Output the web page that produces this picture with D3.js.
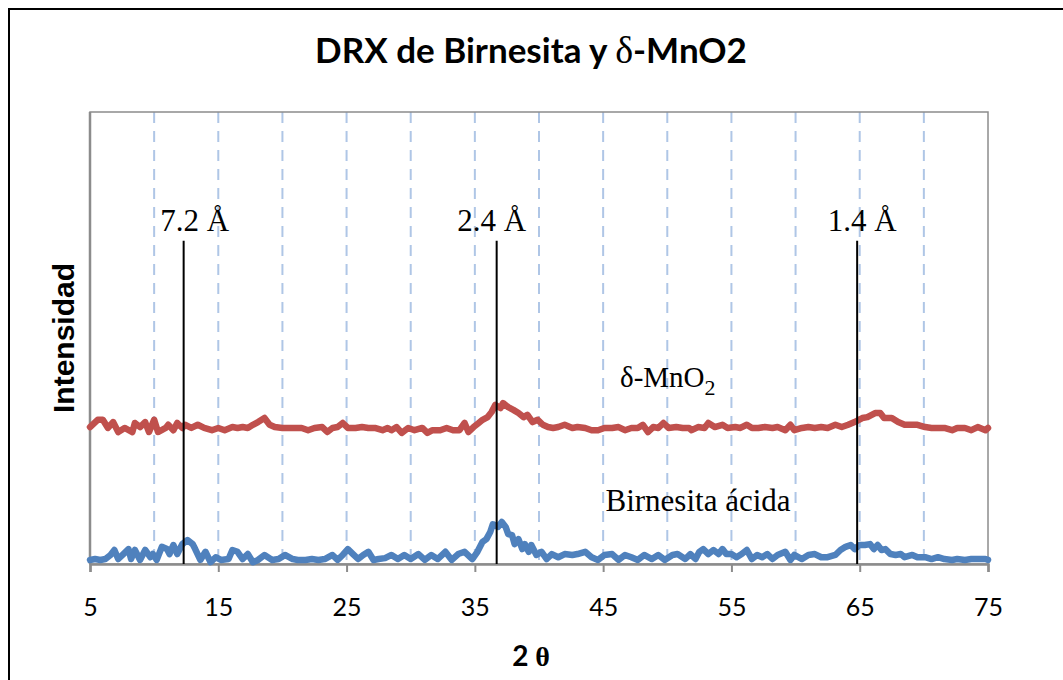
<!DOCTYPE html>
<html><head><meta charset="utf-8">
<script src="https://cdn.jsdelivr.net/npm/d3@7/dist/d3.min.js"></script>
<style>body{margin:0;background:#fff}svg{display:block}</style>
</head><body><div id="chart"></div>
<script>
// --- data (2θ in degrees, intensity in arbitrary units) ---
const mno2Theta = [5.0,5.6,6.0,6.4,6.8,7.2,7.7,8.3,8.5,8.9,9.3,9.6,10.0,10.3,10.9,11.1,11.5,11.8,12.2,12.4,12.9,13.4,13.9,14.5,15.0,15.5,16.1,16.5,16.9,17.3,17.7,18.1,18.6,19.0,19.4,20.0,20.4,21.0,21.5,22.0,22.5,23.1,23.5,23.9,24.3,24.7,25.1,25.7,26.2,26.7,27.2,27.8,28.2,28.5,28.9,29.3,29.8,30.3,30.9,31.3,31.7,32.3,32.8,33.3,33.8,34.2,34.5,34.9,35.3,35.6,36.0,36.3,36.6,37.0,37.2,37.6,38.0,38.4,38.8,39.1,39.5,39.9,40.3,40.7,41.1,41.5,42.0,42.6,43.0,43.6,44.1,44.6,45.1,45.7,46.2,46.7,47.2,47.7,48.1,48.5,48.9,49.3,49.7,50.1,50.7,51.2,51.7,51.9,52.4,52.9,53.2,53.7,54.3,54.7,55.3,55.7,56.2,56.6,57.1,57.6,58.2,58.6,59.2,59.6,59.9,60.5,61.0,61.5,62.0,62.5,63.1,63.6,64.1,64.6,65.2,65.6,66.2,66.6,66.9,67.5,68.0,68.5,69.1,69.5,70.1,70.6,71.1,71.6,72.2,72.6,73.2,73.7,74.2,74.8,75.0];
const mno2Int = [30.3,31.9,31.9,30.1,31.4,29.2,30.1,29.2,31.2,30.3,31.4,29.2,31.9,29.2,30.1,30.8,29.6,31.2,30.1,30.8,30.1,30.8,30.1,29.6,30.1,29.6,30.3,30.1,30.3,30.1,30.8,31.4,32.3,30.8,30.3,30.1,30.1,30.1,30.1,29.6,30.1,30.3,29.2,30.1,30.3,31.2,30.1,30.1,30.3,30.1,30.1,29.6,30.1,29.6,30.3,29.0,30.1,29.6,30.1,29.0,29.6,29.6,30.1,29.6,29.6,31.2,29.2,30.3,31.2,31.9,32.5,33.6,35.2,34.5,35.6,34.7,34.1,33.4,32.5,33.0,31.4,31.9,30.8,30.3,30.1,30.3,30.8,30.1,30.3,30.1,29.6,29.6,30.1,30.1,30.3,29.6,30.1,30.1,30.8,29.2,30.3,30.1,31.2,30.1,30.3,30.1,30.1,29.6,30.3,30.1,31.2,30.3,30.8,30.1,30.3,30.1,30.8,30.1,30.1,30.3,30.1,30.3,29.6,30.8,29.6,30.1,30.3,30.1,30.3,30.1,30.8,30.3,30.8,31.4,32.3,32.5,33.4,33.4,32.3,32.3,31.4,30.8,30.8,30.8,30.3,30.1,30.1,30.1,29.6,30.1,30.1,29.6,30.3,29.6,30.1];

const birTheta = [5.0,5.4,5.8,6.2,6.6,6.9,7.2,7.6,8.0,8.2,8.5,8.9,9.3,9.7,9.9,10.2,10.6,11.0,11.2,11.5,11.8,12.2,12.6,13.0,13.2,13.6,14.0,14.4,14.8,15.2,15.8,16.1,16.5,16.9,17.3,17.7,18.1,18.6,19.2,19.7,20.2,20.8,21.2,21.8,22.3,22.8,23.3,23.9,24.3,24.7,25.1,25.5,25.9,26.3,26.7,27.1,27.5,28.0,28.5,29.0,29.5,30.0,30.6,31.1,31.6,32.1,32.7,33.2,33.7,34.2,34.8,35.2,35.6,35.9,36.2,36.4,36.8,37.1,37.4,37.6,37.9,38.1,38.4,38.7,38.9,39.2,39.4,39.8,40.2,40.6,41.0,41.5,42.0,42.6,43.0,43.6,44.1,44.6,45.1,45.7,46.2,46.7,47.2,47.7,48.2,48.8,49.3,49.8,50.4,50.8,51.4,51.8,52.2,52.5,52.8,53.2,53.6,54.0,54.3,54.6,55.0,55.4,55.8,56.2,56.6,57.0,57.4,57.8,58.2,58.6,59.2,59.6,59.9,60.5,61.0,61.5,62.0,62.5,63.1,63.5,63.9,64.3,64.6,65.0,65.4,65.8,66.1,66.4,66.7,67.0,67.4,67.8,68.2,68.5,69.1,69.5,70.1,70.6,71.1,71.6,72.2,72.6,73.2,73.7,74.2,74.8,75.0];
const birInt = [0.9,1.1,0.9,1.1,2.0,3.1,1.1,2.2,3.3,1.1,3.1,0.9,3.1,1.5,2.2,0.9,3.8,3.3,2.2,4.2,2.2,4.4,5.3,4.4,3.3,0.9,2.7,0.4,1.5,0.9,1.1,3.1,2.7,1.1,2.2,0.4,0.9,2.0,0.9,1.1,2.0,1.1,0.9,0.9,1.1,0.9,1.1,2.0,0.9,2.0,3.3,2.2,1.1,2.0,2.7,0.9,1.1,1.3,2.0,1.1,2.0,1.1,2.2,0.9,2.0,1.1,2.7,0.9,2.2,2.7,1.1,2.7,4.9,5.5,7.1,8.8,8.2,9.3,8.2,6.6,6.4,4.4,5.5,3.3,4.4,2.7,4.2,2.0,2.7,1.1,2.2,1.5,2.2,2.0,2.2,2.7,1.5,0.9,2.0,2.2,0.9,2.0,1.5,0.9,2.0,1.1,2.0,0.9,2.0,2.2,1.1,2.2,1.1,2.7,3.3,2.2,3.1,2.2,3.3,2.2,2.2,1.5,2.2,3.1,1.1,2.0,1.5,2.2,1.1,2.0,2.7,0.9,2.0,1.1,2.0,2.2,1.5,1.5,2.0,3.1,3.8,4.2,3.3,4.2,4.2,4.4,3.3,4.2,3.1,3.3,2.2,2.0,2.2,1.5,2.0,1.5,1.5,1.1,1.5,1.1,0.9,1.1,0.9,1.1,1.1,1.1,0.9];

const xTicks = [5,15,25,35,45,55,65,75];
const gridX = [10,15,20,25,30,35,40,45,50,55,60,65,70];
const peakTheta = [12.3, 36.7, 64.8];
const peakLabels = ["7.2 Å", "2.4 Å", "1.4 Å"];
const peakTop = 71.5;

// --- layout ---
const W = 1063, H = 680;
const plot = {left: 90, right: 988, top: 112, bottom: 564};
const sansC = "Lato, 'Open Sans', sans-serif";
const serif = "'Liberation Serif', 'Times New Roman', serif";

const svg = d3.select("#chart").append("svg").attr("width", W).attr("height", H);

// outer chart frame
svg.append("rect").attr("x", 9).attr("y", 9).attr("width", W + 20).attr("height", H + 20)
  .attr("fill", "none").attr("stroke", "#000").attr("stroke-width", 2);

const x = d3.scaleLinear().domain([5, 75]).range([plot.left, plot.right]);
const y = d3.scaleLinear().domain([0, 100]).range([plot.bottom, plot.top]);

// gridlines
svg.append("g").selectAll("line").data(gridX).join("line")
  .attr("x1", d => x(d)).attr("x2", d => x(d))
  .attr("y1", plot.top).attr("y2", plot.bottom)
  .attr("stroke", "#AFC6E6").attr("stroke-width", 2).attr("stroke-dasharray", "11,8");

// plot frame
svg.append("rect").attr("x", plot.left).attr("y", plot.top)
  .attr("width", plot.right - plot.left).attr("height", plot.bottom - plot.top)
  .attr("fill", "none").attr("stroke", "#8C8C8C").attr("stroke-width", 1.5);

// x axis
const xAxis = d3.axisBottom(x).tickValues(xTicks).tickSize(8).tickPadding(26).tickFormat(d3.format("d"));
const gx = svg.append("g").attr("transform", `translate(0,${plot.bottom})`).call(xAxis);
gx.attr("font-size", null).attr("font-family", null);
gx.select(".domain").attr("stroke", "#8C8C8C").attr("stroke-width", 2.5);
gx.selectAll(".tick line").attr("stroke", "#8C8C8C").attr("stroke-width", 2);
gx.selectAll(".tick text").style("font-family", sansC)
  .style("font-size", "25px").attr("fill", "#000");

// left axis line
svg.append("line").attr("x1", plot.left).attr("x2", plot.left).attr("y1", plot.top).attr("y2", plot.bottom)
  .attr("stroke", "#8C8C8C").attr("stroke-width", 2.5);

// series
const line = d3.line().x(d => x(d[0])).y(d => y(d[1]));
const mno2 = mno2Theta.map((t, i) => [t, mno2Int[i]]);
const bir = birTheta.map((t, i) => [t, birInt[i]]);
svg.append("path").datum(mno2).attr("d", line).attr("fill", "none")
  .attr("stroke", "#C0504D").attr("stroke-width", 6.5).attr("stroke-linejoin", "round").attr("stroke-linecap", "round");
svg.append("path").datum(bir).attr("d", line).attr("fill", "none")
  .attr("stroke", "#4F81BD").attr("stroke-width", 6.5).attr("stroke-linejoin", "round").attr("stroke-linecap", "round");

// peak marker lines
svg.append("g").selectAll("line").data(peakTheta).join("line")
  .attr("x1", d => x(d)).attr("x2", d => x(d))
  .attr("y1", y(peakTop)).attr("y2", y(0))
  .attr("stroke", "#000").attr("stroke-width", 2);

const labelDx = [11, -5, 5];
svg.append("g").selectAll("text").data(peakTheta).join("text")
  .attr("x", (d, i) => x(d) + labelDx[i]).attr("y", 231)
  .attr("text-anchor", "middle")
  .attr("font-family", serif).attr("font-size", 31)
  .text((d, i) => peakLabels[i]);

// series labels
const lab1 = svg.append("text").attr("x", 620).attr("y", 387)
  .attr("font-family", serif).attr("font-size", 29);
lab1.append("tspan").text("δ-MnO");
lab1.append("tspan").attr("dy", 8).attr("font-size", 22).text("2");
svg.append("text").attr("x", 698).attr("y", 511).attr("text-anchor", "middle")
  .attr("font-family", serif).attr("font-size", 31)
  .text("Birnesita ácida");

// title
const title = svg.append("text").attr("x", 531).attr("y", 63).attr("text-anchor", "middle")
  .style("font-family", sansC)
  .style("font-weight", "bold").style("font-size", "35px");
title.append("tspan").text("DRX de Birnesita y ");
title.append("tspan").style("font-family", serif).style("font-weight", "normal").style("font-size", "38px").text("δ");
title.append("tspan").text("-MnO2");

// axis titles
svg.append("text").attr("transform", "translate(74,338) rotate(-90)").attr("text-anchor", "middle")
  .attr("font-family", "'Liberation Sans', Arial, sans-serif").attr("font-weight", "bold").attr("font-size", 30)
  .text("Intensidad");
const xt = svg.append("text").attr("x", 531).attr("y", 666).attr("text-anchor", "middle")
  .attr("font-family", sansC).attr("font-weight", "bold").attr("font-size", 28);
xt.append("tspan").text("2 ");
xt.append("tspan").attr("font-family", serif).text("θ");
</script></body></html>
